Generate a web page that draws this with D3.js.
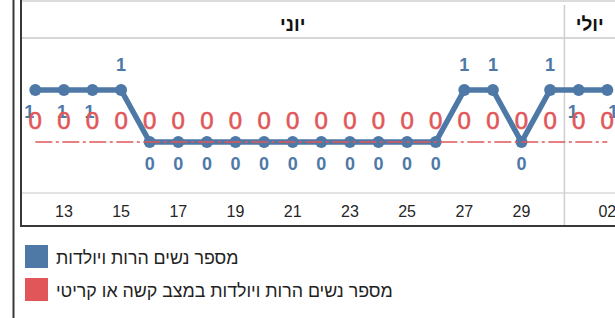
<!DOCTYPE html>
<html lang="he">
  <head>
    <meta charset="utf-8">
    <title>נשים הרות ויולדות</title>
    <style>
      body { margin: 0; background: #fff; }
      svg { display: block; font-family: "Liberation Sans", "DejaVu Sans", sans-serif; }
    </style>
  </head>
  <body>
    <svg width="615" height="318"></svg>

    <script src="https://cdn.jsdelivr.net/npm/d3@7"></script>
    <script>

    // categories: month-day keys
    var categories = ["06-12", "06-13", "06-14", "06-15", "06-16", "06-17", "06-18", "06-19", "06-20",
                      "06-21", "06-22", "06-23", "06-24", "06-25", "06-26", "06-27", "06-28", "06-29",
                      "06-30", "07-01", "07-02"];
    var monthNames = { "06": "יוני", "07": "יולי" };
    var tickLabels = ["06-13", "06-15", "06-17", "06-19", "06-21", "06-23", "06-25", "06-27", "06-29", "07-02"];

    // series
    var pregnant = [1, 1, 1, 1, 0, 0, 0, 0, 0, 0, 0, 0, 0, 0, 0, 1, 1, 0, 1, 1, 1];
    var critical = [0, 0, 0, 0, 0, 0, 0, 0, 0, 0, 0, 0, 0, 0, 0, 0, 0, 0, 0, 0, 0];
    var seriesNames = ["מספר נשים הרות ויולדות", "מספר נשים הרות ויולדות במצב קשה או קריטי"];

    // labels that sit under the point instead of above it (with sideways shift)
    var lowLabels = { "06-12": -6, "06-13": -2, "06-14": -3, "07-01": -6, "07-02": 6 };

    var blue = "#4e79a7", red = "#e15759";

    var svg = d3.select("svg"),
        width = +svg.attr("width");

    var left = 21, bottom = 226, step = 28.6;

    var x = d3.scaleBand()
        .domain(categories)
        .range([left, left + categories.length * step]);

    var y = d3.scaleLinear()
        .domain([0, 1])
        .range([142, 90]);

    // frame lines
    svg.append("line").attr("x1", 22).attr("x2", width).attr("y1", 1).attr("y2", 1)
        .attr("stroke", "#dcdcdc").attr("stroke-width", 2);
    svg.append("line").attr("x1", 22).attr("x2", width).attr("y1", 38).attr("y2", 38)
        .attr("stroke", "#d6d6d6").attr("stroke-width", 2);
    svg.append("line").attr("x1", 22).attr("x2", width).attr("y1", 193).attr("y2", 193)
        .attr("stroke", "#d9d9d9").attr("stroke-width", 1.5);

    // month groups
    var months = d3.groups(categories, function(d) { return d.slice(0, 2); });
    months.forEach(function(m, i) {
      var x0 = x(m[1][0]),
          x1 = Math.min(x(m[1][m[1].length - 1]) + x.bandwidth(), width);
      if (i > 0) {
        svg.append("line").attr("x1", x0).attr("x2", x0).attr("y1", 5).attr("y2", bottom)
            .attr("stroke", "#cfcfcf").attr("stroke-width", 1.5);
      }
      svg.append("text")
          .attr("x", (x0 + x1) / 2)
          .attr("y", 31)
          .attr("text-anchor", "middle")
          .attr("font-size", 19)
          .attr("font-weight", "bold")
          .attr("fill", "#111")
          .text(monthNames[m[0]]);
    });

    // day axis
    var axis = svg.append("g")
        .attr("transform", "translate(0,193)")
        .call(d3.axisBottom(x)
          .tickValues(tickLabels)
          .tickSize(0)
          .tickPadding(13)
          .tickFormat(function(d) { return d.slice(3); }));
    axis.select(".domain").remove();
    axis.selectAll("text")
        .attr("font-family", "Liberation Sans, DejaVu Sans, sans-serif")
        .attr("font-size", 16)
        .attr("fill", "#262626");

    // outer box
    svg.append("line").attr("x1", 13.5).attr("x2", 13.5).attr("y1", 0).attr("y2", 318)
        .attr("stroke", "#383838").attr("stroke-width", 2);
    svg.append("line").attr("x1", 21).attr("x2", 21).attr("y1", 0).attr("y2", bottom + 1)
        .attr("stroke", "#383838").attr("stroke-width", 2);
    svg.append("line").attr("x1", 20).attr("x2", width).attr("y1", bottom).attr("y2", bottom)
        .attr("stroke", "#383838").attr("stroke-width", 2);

    var cx = function(d, i) { return x(categories[i]) + x.bandwidth() / 2; };

    var line = d3.line()
        .x(cx)
        .y(function(d) { return y(d); });

    // blue series
    svg.append("path")
        .datum(pregnant)
        .attr("fill", "none")
        .attr("stroke", blue)
        .attr("stroke-width", 5.5)
        .attr("stroke-linejoin", "round")
        .attr("d", line);

    svg.selectAll(".dot")
        .data(pregnant)
      .enter().append("circle")
        .attr("class", "dot")
        .attr("cx", cx)
        .attr("cy", function(d) { return y(d); })
        .attr("r", 6)
        .attr("fill", blue);

    svg.selectAll(".blabel")
        .data(pregnant)
      .enter().append("text")
        .attr("class", "blabel")
        .attr("x", function(d, i) { return cx(d, i) + (lowLabels[categories[i]] || 0); })
        .attr("y", function(d, i) {
          var low = d === 0 || categories[i] in lowLabels;
          return y(d) + (low ? 22 : -25);
        })
        .attr("dy", "0.36em")
        .attr("text-anchor", "middle")
        .attr("font-size", 18)
        .attr("font-weight", "bold")
        .attr("fill", blue)
        .text(function(d) { return d; });

    // red series
    svg.append("path")
        .datum(critical)
        .attr("fill", "none")
        .attr("stroke", red)
        .attr("stroke-width", 1.6)
        .attr("stroke-dasharray", "17,3.5,3,3.5")
        .attr("d", line);

    svg.selectAll(".rlabel")
        .data(critical)
      .enter().append("text")
        .attr("class", "rlabel")
        .attr("x", cx)
        .attr("y", function(d) { return y(d) - 22; })
        .attr("dy", "0.36em")
        .attr("text-anchor", "middle")
        .attr("font-size", 24)
        .attr("fill", red)
        .attr("stroke", red)
        .attr("stroke-width", 0.6)
        .text(function(d) { return d; });

    // legend
    var legend = svg.selectAll(".legend")
        .data(seriesNames)
      .enter().append("g")
        .attr("class", "legend")
        .attr("transform", function(d, i) { return "translate(25," + (245 + i * 33) + ")"; });

    legend.append("rect")
        .attr("width", 23)
        .attr("height", 23)
        .attr("fill", function(d, i) { return i ? red : blue; });

    legend.append("text")
        .attr("x", 31)
        .attr("y", 19)
        .attr("font-size", 17.8)
        .attr("fill", "#222")
        .text(function(d) { return d; });

    </script>
  </body>
</html>
